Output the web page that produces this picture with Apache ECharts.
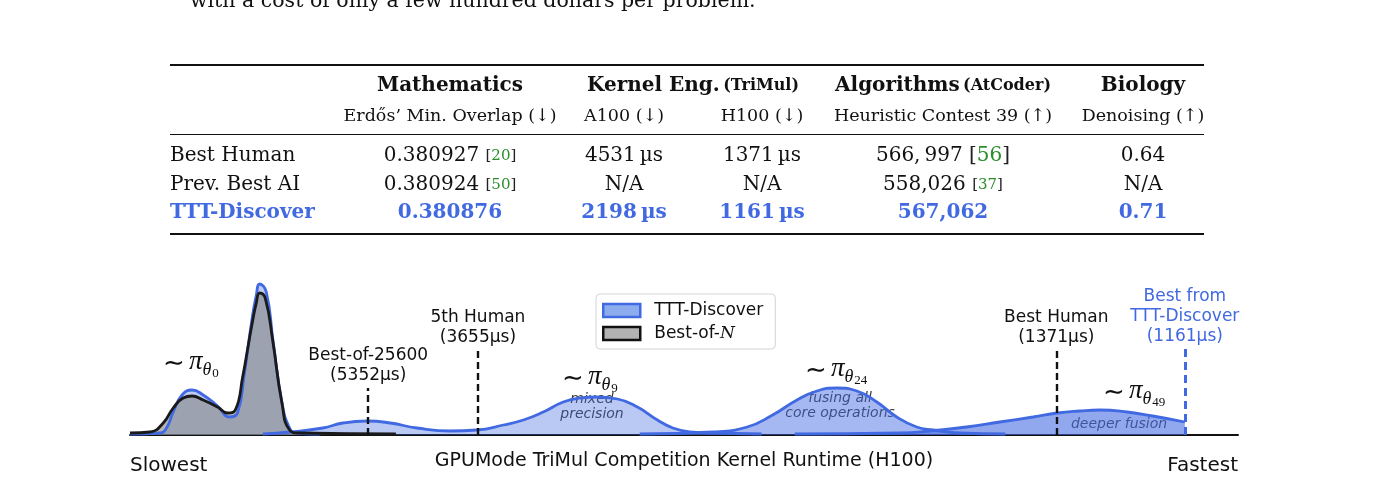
<!DOCTYPE html>
<html>
<head>
<meta charset="utf-8">
<script src="https://cdn.jsdelivr.net/npm/echarts@6/dist/echarts.min.js"></script>
<style>
  html, body { margin: 0; padding: 0; background: #fff; }
  #app { width: 1384px; height: 494px; }
</style>
</head>
<body>
<div id="app"></div>
<script>
/* densities: position 0 = slowest, 100 = fastest */
const bestOfNPos = [0, 1.8, 3.0, 3.9, 4.8, 5.6, 6.6, 7.9, 8.8, 9.5, 10.2, 10.6, 11.0, 11.4, 11.7, 12.2, 12.9, 13.7, 14.4, 15.3, 24];
const bestOfNDen = [2, 3, 12, 27, 37, 39, 35, 28, 22, 25, 60, 85, 110, 132, 142, 137, 93, 33, 5, 2, 1];

const theta0Pos = [0, 2.7, 3.3, 3.9, 4.7, 5.6, 6.6, 7.9, 9.0, 9.7, 10.3, 11.0, 11.4, 11.7, 12.3, 12.9, 13.7, 14.4, 15.0, 17.1];
const theta0Den = [1, 2, 7, 23, 40, 45, 40, 29, 18, 22, 60, 115, 140, 151, 143, 95, 33, 7, 2, 1];

const theta9Pos = [12, 14.4, 17.4, 19.2, 21.4, 23.5, 25.9, 28.9, 31.3, 33.7, 35.5, 37.3, 39.1, 40.6, 42.1, 44.0, 45.8, 47.6, 49.0, 50.5, 52.3, 57];
const theta9Den = [1, 3, 7, 12, 14, 12, 7, 4, 5, 10, 15, 23, 33, 37, 38, 36, 28, 15, 7, 3, 2, 1];

const theta24Pos = [46, 52.6, 55.7, 58.0, 60.2, 62.0, 63.8, 65.6, 67.4, 69.2, 71.0, 72.5, 74.9, 79];
const theta24Den = [1, 3, 8, 20, 35, 44, 47, 44, 33, 18, 8, 5, 2, 1];

const theta49Pos = [60, 69.5, 72.2, 75.5, 78.5, 81.5, 83.7, 85.7, 87.5, 90.0, 92.3, 95.2];
const theta49Den = [1, 2, 4, 8, 13, 18, 22, 24, 25, 23, 19, 13];

/* reference runtimes */
const markerPos = [21.5, 31.4, 83.6, 95.2];
const markerTop = [47, 85, 85, 86];
const markerText = ['Best-of-25600\n(5352µs)', '5th Human\n(3655µs)', 'Best Human\n(1371µs)', 'Best from\nTTT-Discover\n(1161µs)'];

/* table */
const tableRows = ['Best Human', 'Prev. Best AI', 'TTT-Discover'];
const groupHeads = ['{b|Mathematics}', '{b|Kernel Eng.} {s|(TriMul)}', '{b|Algorithms} {s|(AtCoder)}', '{b|Biology}'];
const subHeads = ['Erdős’ Min. Overlap (↓)', 'A100 (↓)', 'H100 (↓)', 'Heuristic Contest 39 (↑)', 'Denoising (↑)'];
const bestHuman = ['0.380927 {c|[}{g|20}{c|]}', '4531\u2009µs', '1371\u2009µs', '566,\u2009997 {C|[}{G|56}{C|]}', '0.64'];
const prevBestAI = ['0.380924 {c|[}{g|50}{c|]}', 'N/A', 'N/A', '558,026 {c|[}{g|37}{c|]}', 'N/A'];
const tttDiscover = ['0.380876', '2198\u2009µs', '1161\u2009µs', '567,062', '0.71'];

const blue = '#4169e1';
const green = '#2a8f2a';
const serif = '"DejaVu Serif", serif';
const sans = '"DejaVu Sans", sans-serif';
const mathFont = '"Liberation Serif", serif';

const chart = echarts.init(document.getElementById('app'), null, {renderer: 'canvas'});

function pairs(xs, ys){
	return xs.map((x, i) => [x, ys[i]]);
}

function measure(text, font){
	const ctx = document.createElement('canvas').getContext('2d');
	ctx.font = font;
	return ctx.measureText(text).width;
}

function density(name, pos, den, fill, stroke){
	return {
		type: 'line',
		name,
		data: pairs(pos, den),
		smooth: 0.5,
		symbol: 'none',
		silent: true,
		lineStyle: {color: stroke, width: 2.8},
		areaStyle: {color: fill, opacity: 1},
		itemStyle: {color: stroke}
	};
}

/* ~ pi_theta_k labels */
function piLabel(x, y, sub){
	const piFont = 'italic 27px ' + mathFont;
	const thFont = 'italic 18px ' + mathFont;
	const wp = measure('π', piFont);
	const wt = measure('θ', thFont);
	const px = x + 26;
	return {
		type: 'group',
		children: [
			{type: 'text', x, y: y + 1, style: {text: '∼', font: '26px ' + sans, fill: '#111', verticalAlign: 'middle'}},
			{type: 'text', x: px, y: y - 1, style: {text: 'π', font: piFont, fill: '#111', verticalAlign: 'middle'}},
			{type: 'text', x: px + wp, y: y + 7, style: {text: 'θ', font: thFont, fill: '#111', verticalAlign: 'middle'}},
			{type: 'text', x: px + wp + wt + 1, y: y + 11, style: {text: sub, font: '13px ' + mathFont, fill: '#111', verticalAlign: 'middle'}}
		]
	};
}

function note(x, y, text){
	return {type: 'text', x, y, style: {text, font: 'italic 14px ' + sans, fill: '#3a3a3a', align: 'center', verticalAlign: 'middle', lineHeight: 15}};
}

const colX = [450, 624, 762, 943, 1143];
const headX = [450, 693, 943, 1143];
const rowY = [156, 185, 213];
const cite = {
	c: {font: '15px ' + serif, fill: '#222'},
	g: {font: '15px ' + serif, fill: green},
	C: {font: '20px ' + serif, fill: '#222'},
	G: {font: '20px ' + serif, fill: green}
};

function cell(x, y, text, font, fill){
	return {type: 'text', x, y, style: {text, font, fill, align: 'center', verticalAlign: 'middle', rich: cite}};
}

function rule(y, w){
	return {type: 'line', shape: {x1: 170, y1: y, x2: 1204, y2: y}, style: {stroke: '#111', lineWidth: w}};
}

const table = [
	{type: 'text', x: 190, y: 2, style: {text: 'with a cost of only a few hundred dollars per problem.', font: '20.5px ' + serif, fill: '#111', verticalAlign: 'middle'}},
	rule(65, 2), rule(134.5, 1.2), rule(234, 2)
];
groupHeads.forEach((t, i) => {
	table.push({type: 'text', x: headX[i], y: 86, style: {
		text: t, align: 'center', verticalAlign: 'middle', fill: '#111',
		rich: {b: {font: 'bold 20px ' + serif, fill: '#111'}, s: {font: 'bold 16px ' + serif, fill: '#111'}}
	}});
});
subHeads.forEach((t, i) => table.push(cell(colX[i], 116, t, '17.5px ' + serif, '#111')));
tableRows.forEach((t, i) => {
	const bold = i === 2;
	table.push({type: 'text', x: 170, y: rowY[i], style: {text: t, font: (bold ? 'bold ' : '') + '20px ' + serif, fill: bold ? blue : '#111', verticalAlign: 'middle'}});
});
bestHuman.forEach((t, i) => table.push(cell(colX[i], rowY[0], t, '20px ' + serif, '#111')));
prevBestAI.forEach((t, i) => table.push(cell(colX[i], rowY[1], t, '20px ' + serif, '#111')));
tttDiscover.forEach((t, i) => table.push(cell(colX[i], rowY[2], t, 'bold 20px ' + serif, blue)));

const marks = markerPos.map((x, i) => {
	const isOurs = i === markerPos.length - 1;
	return [
		{
			coord: [x, 0],
			lineStyle: {color: isOurs ? blue : '#111', width: isOurs ? 3 : 2.4, type: isOurs ? [8, 5] : [7, 4]},
			label: {color: isOurs ? blue : '#111'}
		},
		{coord: [x, markerTop[i]]}
	];
});

const option = {
	animation: false,
	backgroundColor: '#fff',
	grid: {left: 130, right: 146, top: 275, bottom: 59},
	legend: {
		orient: 'vertical',
		left: 596,
		top: 294,
		padding: [8, 12, 7, 6],
		itemGap: 6,
		itemWidth: 37,
		itemHeight: 13,
		backgroundColor: '#fff',
		borderColor: '#d4d4d4',
		borderWidth: 1,
		borderRadius: 4,
		selectedMode: false,
		textStyle: {
			fontFamily: sans, fontSize: 17, color: '#111', padding: [0, 0, 0, 9],
			rich: {n: {fontFamily: serif, fontStyle: 'italic', fontSize: 17, color: '#111'}}
		},
		formatter: name => name === 'Best-of-N' ? 'Best-of-{n|N}' : name,
		data: [
			{name: 'TTT-Discover', icon: 'rect', itemStyle: {color: '#8cacee', borderColor: blue, borderWidth: 2.5}},
			{name: 'Best-of-N', icon: 'rect', itemStyle: {color: '#b3b3b3', borderColor: '#111', borderWidth: 2.5}}
		]
	},
	xAxis: {
		type: 'value',
		min: 0,
		max: 100,
		interval: 100,
		name: 'GPUMode TriMul Competition Kernel Runtime (H100)',
		nameLocation: 'middle',
		nameGap: 17,
		nameMoveOverlap: false,
		nameTextStyle: {fontFamily: sans, fontSize: 19, color: '#111', verticalAlign: 'top'},
		axisLine: {lineStyle: {color: '#111', width: 2}},
		axisTick: {show: false},
		splitLine: {show: false},
		axisLabel: {
			fontFamily: sans, fontSize: 20, color: '#111', margin: 21,
			alignMinLabel: 'left', alignMaxLabel: 'right',
			formatter: v => v === 0 ? 'Slowest' : 'Fastest'
		}
	},
	yAxis: {type: 'value', min: 0, max: 160, show: false},
	series: [
		density('TTT-Discover', theta9Pos, theta9Den, 'rgba(65,105,225,0.36)', blue),
		density('TTT-Discover', theta24Pos, theta24Den, 'rgba(65,105,225,0.47)', blue),
		density('TTT-Discover', theta49Pos, theta49Den, 'rgba(65,105,225,0.58)', blue),
		density('TTT-Discover', theta0Pos, theta0Den, 'rgba(65,105,225,0.35)', blue),
		density('Best-of-N', bestOfNPos, bestOfNDen, 'rgba(140,140,140,0.65)', '#1a1a1a'),
		{
			type: 'line',
			name: 'markers',
			data: markerPos.map(x => [x, 0]),
			symbol: 'none',
			lineStyle: {opacity: 0},
			silent: true,
			markLine: {
				symbol: 'none',
				silent: true,
				animation: false,
				label: {
					show: true,
					position: 'end',
					distance: 2,
					fontFamily: sans,
					fontSize: 17,
					lineHeight: 20,
					formatter: p => markerText[p.dataIndex]
				},
				data: marks
			}
		}
	],
	graphic: [
		...table,
		piLabel(163, 363, '0'),
		piLabel(562, 378, '9'),
		piLabel(805, 370, '24'),
		piLabel(1103, 392, '49'),
		note(592, 407, 'mixed\nprecision'),
		note(840, 406, 'fusing all\ncore operations'),
		note(1119, 424, 'deeper fusion')
	]
};

chart.setOption(option);
</script>
</body>
</html>
